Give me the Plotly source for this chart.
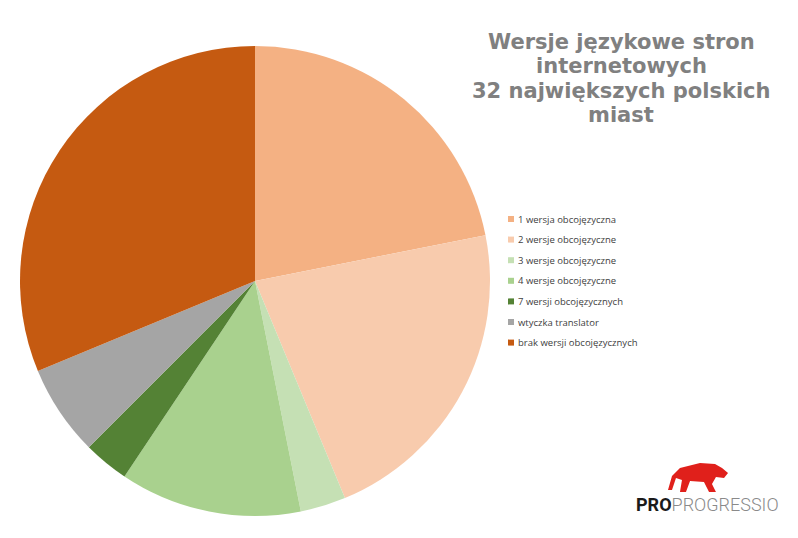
import plotly.graph_objects as go

categories = ["1 wersja obcojęzyczna", "2 wersje obcojęzyczne", "3 wersje obcojęzyczne",
              "4 wersje obcojęzyczne", "7 wersji obcojęzycznych", "wtyczka translator",
              "brak wersji obcojęzycznych"]
values = [7, 7, 1, 4, 1, 2, 10]
colors = ["#F4B183", "#F8CBAD", "#C5E0B4", "#A9D18E", "#548235", "#A5A5A5", "#C55A11"]
title_lines = ["Wersje językowe stron", "internetowych", "32 największych polskich", "miast"]

W, H = 798, 538

fig = go.Figure()
fig.add_trace(go.Pie(
    labels=categories, values=values, sort=False, direction="clockwise", rotation=0,
    marker=dict(colors=colors, line=dict(width=0)), textinfo="none", hoverinfo="label+value",
    domain=dict(x=[20 / W, 490 / W], y=[(H - 516) / H, (H - 46) / H]),
    showlegend=False,
))

annotations = []
shapes = []

# title, one annotation per line
for i, line in enumerate(title_lines):
    annotations.append(dict(
        text="<b>%s</b>" % line, x=621 / W, y=1 - (42 + 24.3 * i) / H,
        xref="paper", yref="paper", xanchor="center", yanchor="middle", showarrow=False,
        font=dict(family="DejaVu Sans", size=21, color="#808080")))

# manual legend
leg_y0, leg_dy = 219, 20.6
for i, (cat, col) in enumerate(zip(categories, colors)):
    yc = leg_y0 + leg_dy * i
    shapes.append(dict(type="rect", xref="paper", yref="paper",
                       x0=508 / W, x1=514 / W, y0=1 - (yc - 3) / H, y1=1 - (yc + 3) / H,
                       fillcolor=col, line=dict(width=0)))
    annotations.append(dict(text=cat, x=516 / W, y=1 - yc / H, xref="paper", yref="paper",
                            xanchor="left", yanchor="middle", showarrow=False,
                            font=dict(family="Open Sans", size=9.5, color="#404040")))

# logo text
annotations.append(dict(
    text="<b>PRO</b><span style='color:#8a8a8a;font-weight:300'>PROGRESSIO</span>",
    x=634 / W, y=1 - 504 / H, xref="paper", yref="paper", xanchor="left", yanchor="middle",
    showarrow=False, font=dict(family="Roboto", size=18, color="#1a1a1a")))

# logo tiger silhouette (decoration)
pts = [(668, 490), (672, 476), (680, 468), (700, 463), (715, 464), (722, 468), (728, 473),
       (724, 478), (716, 477), (712, 484), (716, 492), (709, 492), (704, 482), (690, 481),
       (686, 492), (680, 492), (682, 480), (676, 478), (672, 490)]
path = "M " + " L ".join("%.4f %.4f" % (x / W, 1 - y / H) for x, y in pts) + " Z"
shapes.append(dict(type="path", xref="paper", yref="paper", path=path,
                   fillcolor="#E0201B", line=dict(width=0)))

fig.update_layout(
    width=W, height=H, margin=dict(l=0, r=0, t=0, b=0),
    paper_bgcolor="white", plot_bgcolor="white",
    annotations=annotations, shapes=shapes,
)

fig.write_html("out.html")
